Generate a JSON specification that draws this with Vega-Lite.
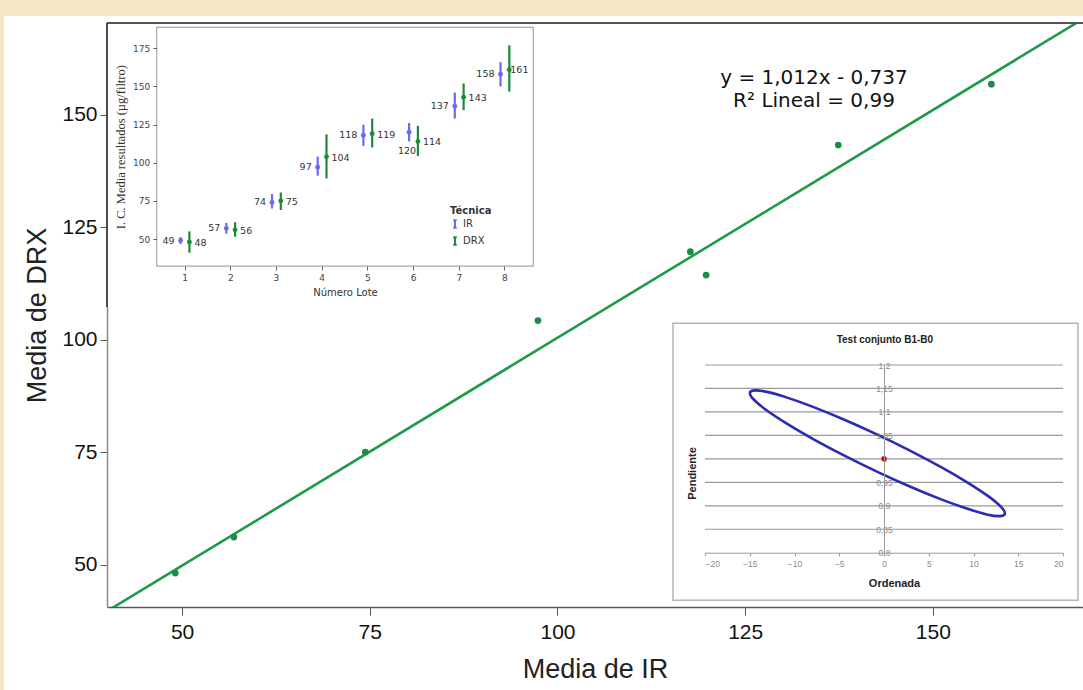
{
  "$schema": "https://vega.github.io/schema/vega-lite/v6.json",
  "width": 976,
  "height": 584,
  "autosize": {"type": "none"},
  "padding": {"left": 107, "top": 23, "right": 0, "bottom": 83},
  "background": "white",
  "view": {"stroke": null},
  "config": {"font": "Liberation Sans"},
  "data": {"values": [{}]},
  "datasets": {
    "puntos": [
      {"ir": 49.1, "drx": 48.2},
      {"ir": 56.9, "drx": 56.2},
      {"ir": 74.4, "drx": 75.1},
      {"ir": 97.4, "drx": 104.3},
      {"ir": 117.7, "drx": 119.6},
      {"ir": 119.8, "drx": 114.4},
      {"ir": 137.4, "drx": 143.3},
      {"ir": 157.8, "drx": 156.8}
    ],
    "recta": [
      {"ir": 40, "drx": 39.743},
      {"ir": 170, "drx": 171.303}
    ],
    "lotes": [
      {"lote": 1, "tecnica": "IR", "media": 49, "lo": 46.8, "hi": 51.2},
      {"lote": 1, "tecnica": "DRX", "media": 48, "lo": 41, "hi": 55},
      {"lote": 2, "tecnica": "IR", "media": 57, "lo": 53.5, "hi": 60.5},
      {"lote": 2, "tecnica": "DRX", "media": 56, "lo": 51.5, "hi": 61},
      {"lote": 3, "tecnica": "IR", "media": 74, "lo": 70, "hi": 79.5},
      {"lote": 3, "tecnica": "DRX", "media": 75, "lo": 69, "hi": 80.5},
      {"lote": 4, "tecnica": "IR", "media": 97, "lo": 91.5, "hi": 104},
      {"lote": 4, "tecnica": "DRX", "media": 104, "lo": 89.7, "hi": 118.6},
      {"lote": 5, "tecnica": "IR", "media": 118, "lo": 111, "hi": 125},
      {"lote": 5, "tecnica": "DRX", "media": 119, "lo": 110, "hi": 129},
      {"lote": 6, "tecnica": "IR", "media": 120, "lo": 114, "hi": 126},
      {"lote": 6, "tecnica": "DRX", "media": 114, "lo": 104.4, "hi": 124.2},
      {"lote": 7, "tecnica": "IR", "media": 137, "lo": 129, "hi": 146},
      {"lote": 7, "tecnica": "DRX", "media": 143, "lo": 134.5, "hi": 152},
      {"lote": 8, "tecnica": "IR", "media": 158, "lo": 150, "hi": 166},
      {"lote": 8, "tecnica": "DRX", "media": 161, "lo": 146.6, "hi": 177}
    ],
    "elipse": [
      {"k": 0, "b0": 13.513, "b1": 0.884},
      {"k": 1, "b0": 13.027, "b1": 0.878},
      {"k": 2, "b0": 11.604, "b1": 0.881},
      {"k": 3, "b0": 9.339, "b1": 0.8935},
      {"k": 4, "b0": 6.388, "b1": 0.9137},
      {"k": 5, "b0": 2.951, "b1": 0.9406},
      {"k": 6, "b0": -0.737, "b1": 0.9724},
      {"k": 7, "b0": -4.425, "b1": 1.0069},
      {"k": 8, "b0": -7.862, "b1": 1.0417},
      {"k": 9, "b0": -10.813, "b1": 1.0745},
      {"k": 10, "b0": -13.078, "b1": 1.103},
      {"k": 11, "b0": -14.501, "b1": 1.1254},
      {"k": 12, "b0": -14.987, "b1": 1.14},
      {"k": 13, "b0": -14.501, "b1": 1.1459},
      {"k": 14, "b0": -13.078, "b1": 1.1427},
      {"k": 15, "b0": -10.813, "b1": 1.1305},
      {"k": 16, "b0": -7.862, "b1": 1.1103},
      {"k": 17, "b0": -4.425, "b1": 1.0834},
      {"k": 18, "b0": -0.737, "b1": 1.0516},
      {"k": 19, "b0": 2.951, "b1": 1.0171},
      {"k": 20, "b0": 6.388, "b1": 0.9823},
      {"k": 21, "b0": 9.339, "b1": 0.9495},
      {"k": 22, "b0": 11.604, "b1": 0.921},
      {"k": 23, "b0": 13.027, "b1": 0.8986}
    ],
    "rejilla": [
      {"g": 0.85}, {"g": 0.9}, {"g": 0.95}, {"g": 1.0},
      {"g": 1.05}, {"g": 1.1}, {"g": 1.15}, {"g": 1.2}
    ]
  },
  "layer": [
    {
      "layer": [
        {
          "data": {"name": "recta"},
          "mark": {"type": "line", "color": "#1f9a4a", "strokeWidth": 2.6, "clip": true},
          "encoding": {
            "x": {
              "field": "ir", "type": "quantitative",
              "scale": {"domain": [40, 170], "nice": false, "zero": false},
              "axis": {
                "title": "Media de IR", "values": [50, 75, 100, 125, 150],
                "grid": false, "labelFontSize": 21, "titleFontSize": 27,
                "titleFontWeight": "normal", "labelColor": "#111", "titleColor": "#222",
                "domainColor": "#555", "domainWidth": 1.5, "tickColor": "#555",
                "tickSize": 8, "labelPadding": 6, "titlePadding": 14, "labelFlush": false
              }
            },
            "y": {
              "field": "drx", "type": "quantitative",
              "scale": {"domain": [40.67, 170.4], "nice": false, "zero": false},
              "axis": {
                "title": "Media de DRX", "values": [50, 75, 100, 125, 150],
                "grid": false, "labelFontSize": 21, "titleFontSize": 27,
                "titleFontWeight": "normal", "labelColor": "#111", "titleColor": "#222",
                "domainColor": "#888", "domainWidth": 1.5, "tickColor": "#555",
                "tickSize": 7, "labelPadding": 3, "titlePadding": 10, "labelFlush": false
              }
            }
          }
        },
        {
          "mark": {"type": "rect", "color": "#f6e7c5"},
          "encoding": {
            "x": {"datum": 25, "type": "quantitative"},
            "x2": {"datum": 176},
            "y": {"datum": 171.96, "type": "quantitative"},
            "y2": {"datum": 176}
          }
        },
        {
          "mark": {"type": "rect", "color": "#f6e7c5"},
          "encoding": {
            "x": {"datum": 25, "type": "quantitative"},
            "x2": {"datum": 26.28},
            "y": {"datum": 20, "type": "quantitative"},
            "y2": {"datum": 176}
          }
        },
        {
          "mark": {"type": "rect", "fill": "white"},
          "encoding": {
            "x": {"datum": 40, "type": "quantitative"},
            "x2": {"datum": 98.74},
            "y": {"datum": 107.3, "type": "quantitative"},
            "y2": {"datum": 170.2}
          }
        },
        {
          "mark": {"type": "rect", "fill": null, "stroke": "#a8a8a8", "strokeWidth": 1.2},
          "encoding": {
            "x": {"datum": 46.62, "type": "quantitative"},
            "x2": {"datum": 96.78},
            "y": {"datum": 116.4, "type": "quantitative"},
            "y2": {"datum": 169.44}
          }
        },
        {
          "mark": {"type": "rect", "fill": "white", "stroke": "#b5b5b5", "strokeWidth": 1.5},
          "encoding": {
            "x": {"datum": 115.39, "type": "quantitative"},
            "x2": {"datum": 169.33},
            "y": {"datum": 42.18, "type": "quantitative"},
            "y2": {"datum": 103.73}
          }
        },
        {
          "mark": {"type": "rule", "color": "#555555", "strokeWidth": 2},
          "encoding": {
            "x": {"datum": 40, "type": "quantitative"},
            "x2": {"datum": 172},
            "y": {"datum": 170.4, "type": "quantitative"}
          }
        },
        {
          "mark": {"type": "rule", "color": "#222222", "strokeWidth": 1.6},
          "encoding": {
            "x": {"datum": 40, "type": "quantitative"},
            "y": {"datum": 107.3, "type": "quantitative"},
            "y2": {"datum": 170.4}
          }
        },
        {
          "data": {"name": "puntos"},
          "mark": {"type": "point", "filled": true, "size": 45, "color": "#1a8c44", "opacity": 1},
          "encoding": {
            "x": {"field": "ir", "type": "quantitative"},
            "y": {"field": "drx", "type": "quantitative"}
          }
        },
        {
          "mark": {
            "type": "text", "text": ["y = 1,012x - 0,737", "R² Lineal = 0,99"],
            "font": "DejaVu Sans", "fontSize": 20, "lineHeight": 23,
            "align": "center", "baseline": "middle", "color": "#111"
          },
          "encoding": {
            "x": {"datum": 134.17, "type": "quantitative"},
            "y": {"datum": 158.18, "type": "quantitative"}
          }
        }
      ]
    },
    {
      "data": {"name": "lotes"},
      "encoding": {
        "x": {
          "field": "lote", "type": "ordinal",
          "scale": {"type": "band", "range": [49.7, 426.3], "paddingInner": 0, "paddingOuter": 0.12},
          "axis": {
            "orient": "bottom", "offset": -341, "title": "Número Lote", "labelAngle": 0,
            "grid": false, "domain": false, "tickSize": 4, "tickColor": "#666",
            "labelFont": "DejaVu Sans", "labelFontSize": 9, "labelColor": "#444",
            "titleFont": "DejaVu Sans", "titleFontSize": 10, "titleFontWeight": "normal",
            "titleColor": "#333", "titlePadding": 5, "labelPadding": 3, "zindex": 1
          }
        },
        "xOffset": {
          "field": "tecnica", "type": "nominal",
          "scale": {"type": "point", "domain": ["IR", "DRX"], "range": [18.4, 27.2], "padding": 0}
        },
        "y": {
          "field": "media", "type": "quantitative",
          "scale": {"domain": [32.3, 188.8], "range": [243, 4.3], "nice": false, "zero": false},
          "axis": {
            "orient": "left", "offset": -49.7, "title": "I. C. Media resultados (µg/filtro)",
            "values": [50, 75, 100, 125, 150, 175], "grid": false, "domain": false,
            "tickSize": 4, "tickColor": "#666", "labelFont": "DejaVu Sans", "labelFontSize": 9,
            "labelColor": "#444", "labelPadding": 3, "titleFont": "Liberation Serif",
            "titleFontSize": 12.5, "titleFontWeight": "normal", "titleColor": "#333",
            "titlePadding": 5, "zindex": 1
          }
        }
      },
      "layer": [
        {
          "mark": {"type": "rule", "strokeWidth": 2.2},
          "encoding": {
            "y": {"field": "lo", "type": "quantitative"},
            "y2": {"field": "hi"},
            "color": {
              "field": "tecnica", "type": "nominal",
              "scale": {"domain": ["IR", "DRX"], "range": ["#6b6bf0", "#1b8a3c"]},
              "legend": {
                "title": "Técnica", "orient": "none", "legendX": 343, "legendY": 183,
                "symbolType": "M-0.45,-1H0.45M0,-1V1M-0.45,1H0.45", "symbolSize": 60,
                "symbolStrokeWidth": 2, "titleFont": "DejaVu Sans", "titleFontSize": 10,
                "titleFontWeight": "bold", "titleColor": "#333", "labelFont": "DejaVu Sans",
                "labelFontSize": 10, "labelColor": "#333", "rowPadding": 1, "labelOffset": 3,
                "titlePadding": 3
              }
            }
          }
        },
        {
          "mark": {"type": "point", "filled": true, "size": 24, "opacity": 1},
          "encoding": {
            "color": {"field": "tecnica", "type": "nominal", "legend": null}
          }
        },
        {
          "transform": [{"filter": "datum.tecnica == 'IR' && datum.lote != 6"}],
          "mark": {"type": "text", "align": "right", "baseline": "middle", "dx": -6, "font": "DejaVu Sans", "fontSize": 9.5, "color": "#333"},
          "encoding": {"text": {"field": "media", "type": "quantitative"}}
        },
        {
          "transform": [{"filter": "datum.tecnica == 'IR' && datum.lote == 6"}],
          "mark": {"type": "text", "align": "right", "baseline": "middle", "dx": 7, "dy": 19, "font": "DejaVu Sans", "fontSize": 9.5, "color": "#333"},
          "encoding": {"text": {"field": "media", "type": "quantitative"}}
        },
        {
          "transform": [{"filter": "datum.tecnica == 'DRX' && datum.lote != 8"}],
          "mark": {"type": "text", "align": "left", "baseline": "middle", "dx": 5, "dy": 1, "font": "DejaVu Sans", "fontSize": 9.5, "color": "#333"},
          "encoding": {"text": {"field": "media", "type": "quantitative"}}
        },
        {
          "transform": [{"filter": "datum.tecnica == 'DRX' && datum.lote == 8"}],
          "mark": {"type": "text", "align": "left", "baseline": "middle", "dx": 1, "font": "DejaVu Sans", "fontSize": 9.5, "color": "#333"},
          "encoding": {"text": {"field": "media", "type": "quantitative"}}
        }
      ]
    },
    {
      "layer": [
        {
          "data": {"name": "rejilla"},
          "mark": {"type": "rule", "color": "#9a9a9a", "strokeWidth": 1.2},
          "encoding": {
            "x": {"datum": -20, "type": "quantitative"},
            "x2": {"datum": 20},
            "y": {"field": "g", "type": "quantitative"}
          }
        },
        {
          "data": {"name": "elipse"},
          "mark": {"type": "line", "color": "#2b2bb5", "strokeWidth": 2.6, "interpolate": "cardinal-closed"},
          "encoding": {
            "x": {
              "field": "b0", "type": "quantitative",
              "scale": {"domain": [-20, 20], "range": [598, 956], "nice": false, "zero": false},
              "axis": {
                "orient": "bottom", "offset": -54.3, "title": "Ordenada",
                "values": [-20, -15, -10, -5, 0, 5, 10, 15, 20], "grid": false,
                "domainColor": "#9a9a9a", "tickColor": "#9a9a9a", "tickSize": 3,
                "labelFontSize": 8.5, "labelColor": "#8a8a8a", "labelPadding": 4,
                "titleFontSize": 11, "titleFontWeight": "bold", "titleColor": "#222",
                "titleX": 787, "titleY": 31, "titleBaseline": "middle", "zindex": 1
              }
            },
            "y": {
              "field": "b1", "type": "quantitative",
              "scale": {"domain": [0.8, 1.2], "range": [529.7, 342], "nice": false, "zero": false},
              "axis": {
                "orient": "left", "offset": -777, "title": "Pendiente",
                "values": [0.8, 0.85, 0.9, 0.95, 1, 1.05, 1.1, 1.15, 1.2], "grid": false,
                "labelExpr": "replace(format(datum.value, '~g'), '.', ',')",
                "ticks": false, "tickSize": 0, "labelPadding": 0, "labelAlign": "center",
                "labelBaseline": "middle", "domainColor": "#9a9a9a",
                "labelFontSize": 8.5, "labelColor": "#8a8a8a",
                "titleFontSize": 11, "titleFontWeight": "bold", "titleColor": "#222",
                "titleX": -192, "titleY": 450, "titleAngle": -90, "titleBaseline": "middle",
                "zindex": 1
              }
            },
            "order": {"field": "k", "type": "quantitative"}
          }
        },
        {
          "mark": {"type": "point", "filled": true, "size": 30, "color": "#e00000", "opacity": 1},
          "encoding": {
            "x": {"datum": 0, "type": "quantitative"},
            "y": {"datum": 1, "type": "quantitative"}
          }
        },
        {
          "mark": {"type": "text", "text": "Test conjunto B1-B0", "fontSize": 10, "fontWeight": "bold", "color": "#222", "align": "center", "baseline": "middle"},
          "encoding": {
            "x": {"datum": 0.1, "type": "quantitative"},
            "y": {"datum": 1.253, "type": "quantitative"}
          }
        }
      ]
    }
  ],
  "resolve": {
    "scale": {"x": "independent", "y": "independent"},
    "axis": {"x": "independent", "y": "independent"}
  }
}
